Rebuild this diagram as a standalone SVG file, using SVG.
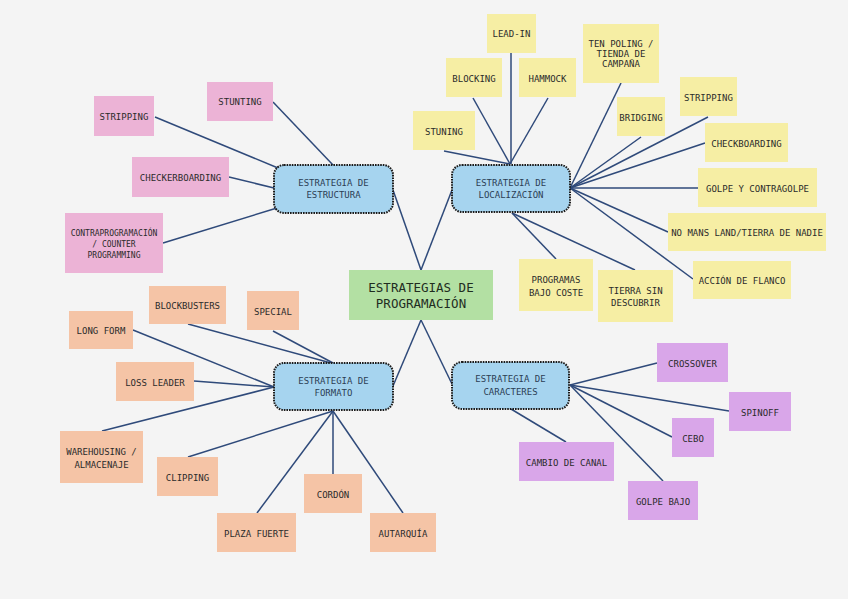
<svg xmlns="http://www.w3.org/2000/svg" width="848" height="599" viewBox="0 0 848 599">
<style>
text{font-family:"DejaVu Sans Mono","Liberation Mono",monospace;font-size:9px;fill:#2b2b2b;text-anchor:middle;dominant-baseline:central}
.main text{font-size:12.5px;fill:#1f2d1f}
.sub rect{fill:#a6d4ef;stroke:#1c1c1c;stroke-width:2;stroke-dasharray:1.6 1}
.sub text{fill:#2c3e55}
.pk{fill:#ecb3d6}.yl{fill:#f6eea4}.or{fill:#f5c4a6}.pu{fill:#d9a6e9}
#connectors line{stroke:#2f4a7a;stroke-width:1.5}
</style>
<rect width="848" height="599" fill="#f4f4f4"/>
<g id="connectors">
<line x1="421" y1="270" x2="393" y2="190"/>
<line x1="421" y1="270" x2="452" y2="190"/>
<line x1="421" y1="320" x2="393" y2="386"/>
<line x1="421" y1="320" x2="452" y2="384"/>
<line x1="273" y1="102" x2="333" y2="165"/>
<line x1="155" y1="117" x2="278" y2="168"/>
<line x1="229" y1="177" x2="274" y2="188"/>
<line x1="163" y1="243" x2="277" y2="208"/>
<line x1="444" y1="151" x2="510" y2="164"/>
<line x1="473" y1="98" x2="510" y2="164"/>
<line x1="511" y1="53" x2="511" y2="164"/>
<line x1="548" y1="98" x2="510" y2="164"/>
<line x1="621" y1="83" x2="570" y2="188"/>
<line x1="641" y1="137" x2="570" y2="188"/>
<line x1="708" y1="117" x2="570" y2="188"/>
<line x1="705" y1="143" x2="570" y2="188"/>
<line x1="698" y1="188" x2="570" y2="188"/>
<line x1="668" y1="232" x2="570" y2="188"/>
<line x1="693" y1="279" x2="570" y2="188"/>
<line x1="512" y1="213" x2="556" y2="259"/>
<line x1="512" y1="213" x2="635" y2="270"/>
<line x1="188" y1="324" x2="331" y2="363"/>
<line x1="273" y1="331" x2="333" y2="363"/>
<line x1="133" y1="330" x2="274" y2="387"/>
<line x1="194" y1="381" x2="274" y2="387"/>
<line x1="102" y1="431" x2="274" y2="387"/>
<line x1="188" y1="457" x2="333" y2="411"/>
<line x1="333" y1="474" x2="333" y2="411"/>
<line x1="257" y1="513" x2="333" y2="411"/>
<line x1="403" y1="513" x2="333" y2="411"/>
<line x1="657" y1="363" x2="570" y2="385"/>
<line x1="729" y1="411" x2="570" y2="385"/>
<line x1="672" y1="437" x2="570" y2="385"/>
<line x1="663" y1="481" x2="570" y2="385"/>
<line x1="566" y1="442" x2="511" y2="409"/>
</g>
<g id="main" class="main"><rect x="349" y="270" width="144" height="50" fill="#b3e0a3"/><text x="421" y="287.5">ESTRATEGIAS DE</text><text x="421" y="303.5">PROGRAMACIÓN</text></g>
<g id="sub-estructura" class="sub"><rect x="274" y="165" width="119" height="48" rx="10"/><text x="333.5" y="182.5">ESTRATEGIA DE</text><text x="333.5" y="195">ESTRUCTURA</text></g>
<g id="sub-localizacion" class="sub"><rect x="452" y="165" width="118" height="47" rx="10"/><text x="511" y="182.5">ESTRATEGIA DE</text><text x="511" y="195">LOCALIZACIÓN</text></g>
<g id="sub-formato" class="sub"><rect x="274" y="363" width="119" height="47" rx="10"/><text x="333.5" y="380.5">ESTRATEGIA DE</text><text x="333.5" y="393">FORMATO</text></g>
<g id="sub-caracteres" class="sub"><rect x="452" y="362" width="117" height="47" rx="10"/><text x="510.5" y="379">ESTRATEGIA DE</text><text x="510.5" y="391.5">CARACTERES</text></g>
<g id="n-stunting"><rect class="pk" x="207" y="82" width="66" height="39"/><text x="240" y="102">STUNTING</text></g>
<g id="n-stripping-e"><rect class="pk" x="94" y="96" width="60" height="40"/><text x="124" y="117">STRIPPING</text></g>
<g id="n-checkerboarding"><rect class="pk" x="132" y="157" width="97" height="40"/><text x="180.5" y="178">CHECKERBOARDING</text></g>
<g id="n-contraprogramacion"><rect class="pk" x="65" y="213" width="98" height="60"/><text x="114" y="233" style="font-size:8px">CONTRAPROGRAMACIÓN</text><text x="114" y="244" style="font-size:8px">/ COUNTER</text><text x="114" y="255" style="font-size:8px">PROGRAMMING</text></g>
<g id="n-leadin"><rect class="yl" x="487" y="14" width="49" height="39"/><text x="511.5" y="34">LEAD-IN</text></g>
<g id="n-blocking"><rect class="yl" x="446" y="58" width="56" height="39"/><text x="474" y="78.5">BLOCKING</text></g>
<g id="n-hammock"><rect class="yl" x="519" y="58" width="57" height="39"/><text x="547.5" y="78.5">HAMMOCK</text></g>
<g id="n-stuning"><rect class="yl" x="413" y="111" width="62" height="39"/><text x="444" y="131.5">STUNING</text></g>
<g id="n-tenpoling"><rect class="yl" x="583" y="24" width="76" height="59"/><text x="621" y="44">TEN POLING /</text><text x="621" y="54">TIENDA DE</text><text x="621" y="63.5">CAMPAÑA</text></g>
<g id="n-bridging"><rect class="yl" x="617" y="97" width="48" height="39"/><text x="641" y="117.5">BRIDGING</text></g>
<g id="n-stripping-l"><rect class="yl" x="680" y="77" width="57" height="39"/><text x="708.5" y="98">STRIPPING</text></g>
<g id="n-checkboarding"><rect class="yl" x="705" y="123" width="83" height="39"/><text x="746.5" y="143.5">CHECKBOARDING</text></g>
<g id="n-golpe"><rect class="yl" x="698" y="168" width="119" height="39"/><text x="757.5" y="188.5">GOLPE Y CONTRAGOLPE</text></g>
<g id="n-nomans"><rect class="yl" x="668" y="213" width="158" height="38"/><text x="747" y="232.5">NO MANS LAND/TIERRA DE NADIE</text></g>
<g id="n-accion"><rect class="yl" x="693" y="261" width="98" height="38"/><text x="742" y="280.5">ACCIÓN DE FLANCO</text></g>
<g id="n-programas"><rect class="yl" x="519" y="259" width="74" height="52"/><text x="556" y="280">PROGRAMAS</text><text x="556" y="292.5">BAJO COSTE</text></g>
<g id="n-tierra"><rect class="yl" x="598" y="270" width="75" height="52"/><text x="635.5" y="290.5">TIERRA SIN</text><text x="635.5" y="303">DESCUBRIR</text></g>
<g id="n-blockbusters"><rect class="or" x="149" y="286" width="77" height="38"/><text x="187.5" y="306">BLOCKBUSTERS</text></g>
<g id="n-special"><rect class="or" x="247" y="291" width="52" height="39"/><text x="273" y="312">SPECIAL</text></g>
<g id="n-longform"><rect class="or" x="69" y="311" width="64" height="38"/><text x="101" y="331">LONG FORM</text></g>
<g id="n-lossleader"><rect class="or" x="116" y="362" width="78" height="39"/><text x="155" y="383">LOSS LEADER</text></g>
<g id="n-warehousing"><rect class="or" x="60" y="431" width="83" height="52"/><text x="101.5" y="452">WAREHOUSING /</text><text x="101.5" y="465">ALMACENAJE</text></g>
<g id="n-clipping"><rect class="or" x="157" y="457" width="61" height="39"/><text x="187.5" y="478">CLIPPING</text></g>
<g id="n-cordon"><rect class="or" x="304" y="474" width="58" height="39"/><text x="333" y="495">CORDÓN</text></g>
<g id="n-plaza"><rect class="or" x="217" y="513" width="79" height="39"/><text x="256.5" y="534">PLAZA FUERTE</text></g>
<g id="n-autarquia"><rect class="or" x="370" y="513" width="66" height="39"/><text x="403" y="534">AUTARQUÍA</text></g>
<g id="n-crossover"><rect class="pu" x="657" y="343" width="71" height="39"/><text x="692.5" y="364">CROSSOVER</text></g>
<g id="n-spinoff"><rect class="pu" x="729" y="392" width="62" height="39"/><text x="760" y="412.5">SPINOFF</text></g>
<g id="n-cebo"><rect class="pu" x="672" y="418" width="42" height="39"/><text x="693" y="439">CEBO</text></g>
<g id="n-cambio"><rect class="pu" x="519" y="442" width="95" height="39"/><text x="566.5" y="463">CAMBIO DE CANAL</text></g>
<g id="n-golpebajo"><rect class="pu" x="628" y="481" width="70" height="39"/><text x="663" y="501.5">GOLPE BAJO</text></g>
</svg>
